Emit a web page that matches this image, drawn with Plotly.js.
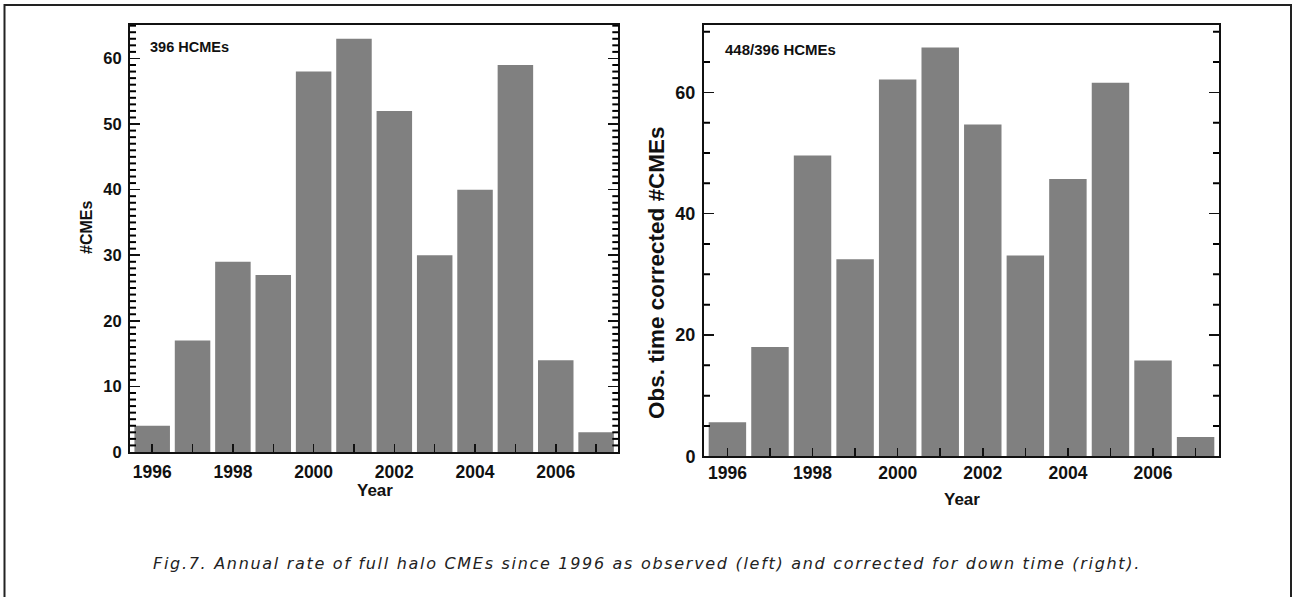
<!DOCTYPE html>
<html>
<head>
<meta charset="utf-8">
<script src="https://cdn.plot.ly/plotly-3.0.1.min.js"></script>
<style>html,body{margin:0;padding:0;background:#fff;}#chart{width:1292px;height:597px;}</style>
</head>
<body>
<div id="chart"></div>
<script>
// ---- data ----
const years = [1996, 1997, 1998, 1999, 2000, 2001, 2002, 2003, 2004, 2005, 2006, 2007];
const observedCMEs = [4, 17, 29, 27, 58, 63, 52, 30, 40, 59, 14, 3];
const correctedCMEs = [5.6, 18, 49.6, 32.5, 62.1, 67.4, 54.7, 33.1, 45.7, 61.6, 15.8, 3.2];
const yearTickText = ['1996', '', '1998', '', '2000', '', '2002', '', '2004', '', '2006', ''];
const leftLabel = '396 HCMEs';
const rightLabel = '448/396 HCMEs';
const leftYTitle = '#CMEs';
const rightYTitle = 'Obs. time corrected #CMEs';
const xTitle = 'Year';
const caption = 'Fig.7. Annual rate of full halo CMEs since 1996 as observed (left) and corrected for down time (right).';

// ---- page geometry ----
const W = 1292, H = 597;
const px = v => v / W;
const py = v => 1 - v / H;
const FONT = 'Liberation Sans, Arial, sans-serif';
const INK = '#111';
const BAR = '#808080';

const leftRange = [0, 65.1];
const rightRange = [0, 71.1];
const leftMajor = 10, leftMinor = 1;
const rightMajor = 20, rightMinor = 5;

const traces = [
  {type: 'bar', x: years, y: observedCMEs, xaxis: 'x', yaxis: 'y', width: 0.88,
   marker: {color: BAR, line: {width: 0}}, hoverinfo: 'x+y', showlegend: false},
  {type: 'bar', x: years, y: correctedCMEs, xaxis: 'x2', yaxis: 'y2', width: 0.88,
   marker: {color: BAR, line: {width: 0}}, hoverinfo: 'x+y', showlegend: false}
];

function xAxis(domain, anchor, standoff) {
  return {
    domain: domain, anchor: anchor, range: [1995.45, 2007.55],
    tickmode: 'array', tickvals: years, ticktext: yearTickText,
    ticks: 'inside', ticklen: 8, tickwidth: 1.5, tickcolor: INK,
    showline: true, linewidth: 2, linecolor: INK, mirror: true,
    showgrid: false, zeroline: false, ticklabelstandoff: standoff,
    tickfont: {family: FONT, size: 17.5, color: INK, weight: 'bold'}
  };
}
function yAxis(domain, anchor, range, dtick, fsize) {
  return {
    domain: domain, anchor: anchor, range: range,
    tickmode: 'linear', tick0: 0, dtick: dtick,
    ticks: 'inside', ticklen: 10, tickwidth: 1.5, tickcolor: INK,
    showline: true, linewidth: 2, linecolor: INK, mirror: 'ticks',
    showgrid: false, zeroline: false, ticklabelstandoff: 3,
    tickfont: {family: FONT, size: fsize, color: INK, weight: 'bold'}
  };
}

// small (minor) tick marks on both vertical sides, placed in data units of each y axis
function minorTicks(xref, yref, range, major, minor) {
  const out = [];
  for (let v = minor; v <= range[1]; v += minor) {
    if (Math.abs(v / major - Math.round(v / major)) < 1e-9) continue;
    [0, 1].forEach(side => out.push({
      type: 'line', xref: xref + ' domain', yref: yref, layer: 'above',
      xsizemode: 'pixel', xanchor: side, x0: side === 0 ? 0 : -6, x1: side === 0 ? 6 : 0,
      y0: v, y1: v, line: {color: '#000', width: 2}
    }));
  }
  return out;
}

const layout = {
  width: W, height: H,
  margin: {l: 0, r: 0, t: 0, b: 0},
  paper_bgcolor: '#fff', plot_bgcolor: '#fff',
  showlegend: false,
  xaxis: xAxis([px(130), px(618.3)], 'y', 3),
  yaxis: yAxis([py(452), py(25)], 'x', leftRange, leftMajor, 16.5),
  xaxis2: xAxis([px(704), px(1219)], 'y2', 4.5),
  yaxis2: yAxis([py(456.3), py(25)], 'x2', rightRange, rightMajor, 18),
  shapes: [
    {type: 'rect', xref: 'paper', yref: 'paper', x0: px(4.5), x1: px(1291), y0: -0.02, y1: py(5),
     line: {color: '#222', width: 2}, fillcolor: 'rgba(0,0,0,0)', layer: 'below'}
  ].concat(minorTicks('x', 'y', leftRange, leftMajor, leftMinor))
   .concat(minorTicks('x2', 'y2', rightRange, rightMajor, rightMinor)),
  annotations: [
    {text: leftLabel, xref: 'paper', yref: 'paper', x: px(147.5), y: py(47), xanchor: 'left', yanchor: 'middle',
     showarrow: false, font: {family: FONT, size: 14.5, color: INK, weight: 'bold'}},
    {text: rightLabel, xref: 'paper', yref: 'paper', x: px(723.4), y: py(49.3), xanchor: 'left', yanchor: 'middle',
     showarrow: false, font: {family: FONT, size: 15, color: INK, weight: 'bold'}},
    {text: leftYTitle, xref: 'paper', yref: 'paper', x: px(86), y: py(228), xanchor: 'center', yanchor: 'middle',
     textangle: -90, showarrow: false, font: {family: FONT, size: 16, color: INK, weight: 'bold'}},
    {text: rightYTitle, xref: 'paper', yref: 'paper', x: px(656), y: py(273), xanchor: 'center', yanchor: 'middle',
     textangle: -90, showarrow: false, font: {family: FONT, size: 22.5, color: INK, weight: 'bold'}},
    {text: xTitle, xref: 'paper', yref: 'paper', x: px(375), y: py(490), xanchor: 'center', yanchor: 'middle',
     showarrow: false, font: {family: FONT, size: 17, color: INK, weight: 'bold'}},
    {text: xTitle, xref: 'paper', yref: 'paper', x: px(961.5), y: py(499), xanchor: 'center', yanchor: 'middle',
     showarrow: false, font: {family: FONT, size: 17, color: INK, weight: 'bold'}},
    {text: '<span style="letter-spacing:1.7px">' + caption + '</span>', xref: 'paper', yref: 'paper',
     x: px(647), y: py(563), xanchor: 'center', yanchor: 'middle',
     showarrow: false, font: {family: 'DejaVu Sans, Verdana, sans-serif', size: 16, color: '#222', style: 'italic'}}
  ]
};

Plotly.newPlot('chart', traces, layout, {displayModeBar: false, staticPlot: true});
</script>
</body>
</html>
